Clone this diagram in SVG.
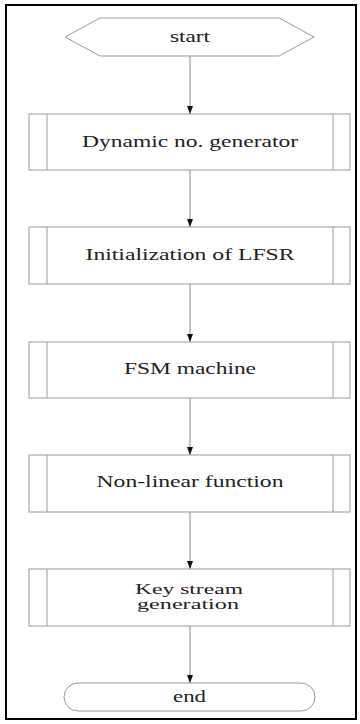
<svg xmlns="http://www.w3.org/2000/svg" width="360" height="724" viewBox="0 0 360 724">
<style>
.sh{fill:#fff;stroke:#9a9a9a;stroke-width:1}
.ln{stroke:#8a8a8a;stroke-width:1;fill:none}
.t{font-family:"Liberation Serif","DejaVu Serif","Times New Roman",serif;font-size:16px;fill:#222;text-anchor:middle}
.s{font-size:14px}
</style>
<defs>
<marker id="ah" viewBox="0 0 8 6" refX="8" refY="3" markerWidth="8" markerHeight="6" orient="auto" markerUnits="userSpaceOnUse">
<path d="M0,0 L8,3 L0,6 Z" fill="#111"/>
</marker>
</defs>
<rect x="0" y="0" width="360" height="724" fill="#fff"/>
<rect x="6" y="5" width="350" height="714" fill="none" stroke="#000" stroke-width="2"/>
<g id="connectors">
<line class="ln" x1="190" y1="56" x2="190" y2="114" marker-end="url(#ah)"/>
<line class="ln" x1="190" y1="170" x2="190" y2="227" marker-end="url(#ah)"/>
<line class="ln" x1="190" y1="284" x2="190" y2="342" marker-end="url(#ah)"/>
<line class="ln" x1="190" y1="398" x2="190" y2="455" marker-end="url(#ah)"/>
<line class="ln" x1="190" y1="512" x2="190" y2="569" marker-end="url(#ah)"/>
<line class="ln" x1="190" y1="626" x2="190" y2="683" marker-end="url(#ah)"/>
</g>
<g id="start">
<polygon class="sh" points="65,37 100,18 279,18 314,37 279,56 100,56"/>
<text class="t" x="190" y="41.5" textLength="40" lengthAdjust="spacingAndGlyphs">start</text>
</g>
<g id="dynamic">
<rect class="sh" x="29" y="114" width="321" height="56"/>
<line class="sh" x1="47" y1="114" x2="47" y2="170"/>
<line class="sh" x1="333" y1="114" x2="333" y2="170"/>
<text class="t" x="190" y="147" textLength="216" lengthAdjust="spacingAndGlyphs">Dynamic no. generator</text>
</g>
<g id="init">
<rect class="sh" x="29" y="227" width="321" height="57"/>
<line class="sh" x1="47" y1="227" x2="47" y2="284"/>
<line class="sh" x1="333" y1="227" x2="333" y2="284"/>
<text class="t" x="190" y="260" textLength="209" lengthAdjust="spacingAndGlyphs">Initialization of LFSR</text>
</g>
<g id="fsm">
<rect class="sh" x="29" y="342" width="321" height="56"/>
<line class="sh" x1="47" y1="342" x2="47" y2="398"/>
<line class="sh" x1="333" y1="342" x2="333" y2="398"/>
<text class="t" x="190" y="374" textLength="132" lengthAdjust="spacingAndGlyphs">FSM machine</text>
</g>
<g id="nonlinear">
<rect class="sh" x="29" y="455" width="321" height="57"/>
<line class="sh" x1="47" y1="455" x2="47" y2="512"/>
<line class="sh" x1="333" y1="455" x2="333" y2="512"/>
<text class="t" x="190" y="487" textLength="187" lengthAdjust="spacingAndGlyphs">Non-linear function</text>
</g>
<g id="keystream">
<rect class="sh" x="29" y="569" width="321" height="57"/>
<line class="sh" x1="47" y1="569" x2="47" y2="626"/>
<line class="sh" x1="333" y1="569" x2="333" y2="626"/>
<text class="t s" x="189" y="594" textLength="108" lengthAdjust="spacingAndGlyphs">Key stream</text>
<text class="t s" x="188" y="609" textLength="102" lengthAdjust="spacingAndGlyphs">generation</text>
</g>
<g id="end">
<rect class="sh" x="64" y="683" width="251" height="28" rx="14" ry="14"/>
<text class="t" x="189.5" y="702" textLength="33" lengthAdjust="spacingAndGlyphs">end</text>
</g>
</svg>
